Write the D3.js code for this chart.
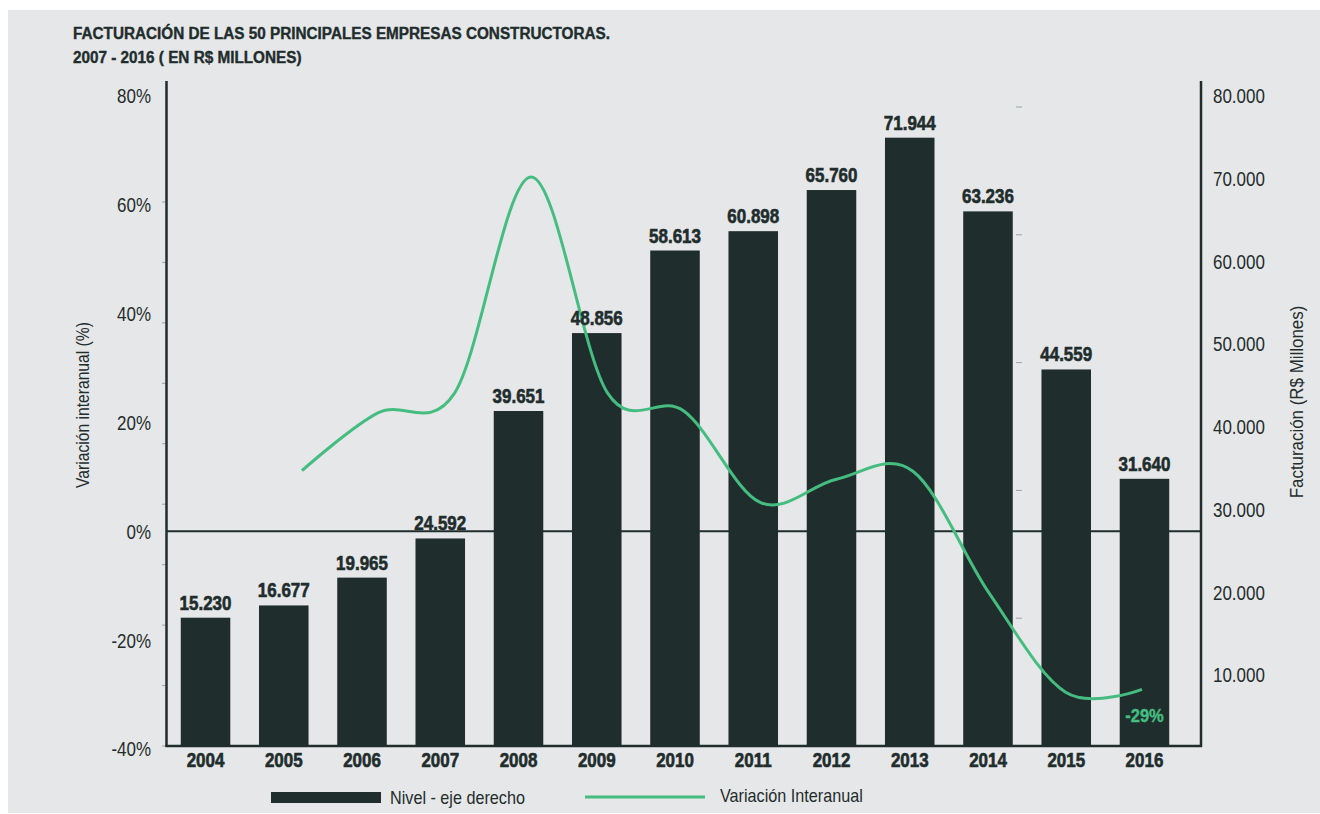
<!DOCTYPE html>
<html>
<head>
<meta charset="utf-8">
<script src="https://cdn.jsdelivr.net/npm/d3@7/dist/d3.min.js"></script>
<style>
  html, body { margin: 0; padding: 0; background: #ffffff; }
  svg { display: block; }
  text { font-family: "Liberation Sans", Arial, sans-serif; fill: #1f2d2d; }
</style>
</head>
<body>
<svg id="chart" width="1320" height="814"></svg>
<script>
// Facturación anual (R$ millones) y variación interanual (%)
const years = ["2004", "2005", "2006", "2007", "2008", "2009", "2010", "2011", "2012", "2013", "2014", "2015", "2016"];
const revenue = [15230, 16677, 19965, 24592, 39651, 48856, 58613, 60898, 65760, 71944, 63236, 44559, 31640];
const variationYears = ["2005", "2006", "2007", "2008", "2009", "2010", "2011", "2012", "2013", "2014", "2015", "2016"];
const variation = [9.5, 19.7, 23.2, 61.2, 23.2, 20.0, 3.9, 8.0, 9.4, -12.1, -29.5, -29.0];
const pctTicks = [-40, -20, 0, 20, 40, 60, 80];
const revTicks = [10000, 20000, 30000, 40000, 50000, 60000, 70000, 80000];
const titleLines = ["FACTURACIÓN DE LAS 50 PRINCIPALES EMPRESAS CONSTRUCTORAS.", "2007 - 2016 ( EN R$ MILLONES)"];

const DARK = "#1f2d2d";
const GREEN = "#45bd80";
const NARROW = 0.87;   // horizontal squeeze giving a condensed face

const esLocale = d3.formatLocale({ decimal: ",", thousands: ".", grouping: [3], currency: ["R$", ""], minus: "-" });
const fmtThousands = esLocale.format(",");
const fmtPct = esLocale.format(".0f");

const svg = d3.select("#chart");

// text helper: positioned group transform, then a horizontal squeeze
function label(parent, x, y, str, o = {}) {
  const rot = o.rotate ? ` rotate(${o.rotate})` : "";
  const fill = o.fill || DARK;
  const t = parent.append("text")
    .attr("transform", `translate(${x},${y})${rot} scale(${o.sx || NARROW},1)`)
    .attr("text-anchor", o.anchor || "start")
    .style("font-size", (o.size || 19) + "px")
    .style("font-weight", o.weight || "normal")
    .style("fill", fill)
    .text(str);
  if (o.heavy) t.style("stroke", fill).style("stroke-width", o.heavy + "px");
  return t;
}

// panel background
svg.append("rect").attr("x", 8).attr("y", 10).attr("width", 1312).attr("height", 803).attr("fill", "#e6e7e8");

// plot frame
const frameLeft = 166.5, frameRight = 1201, frameTop = 81, frameBottom = 746;

// scales
const x = d3.scaleBand().domain(years).range([166.4, 1183.6]).paddingInner(0.367).paddingOuter(0.1835);
const yBar = d3.scaleLinear().domain([0, 80000]).range([746.6, 69.5]);
const yRevLabel = d3.scaleLinear().domain([0, 80000]).range([757.7, 96]);
const yPctLabel = d3.scaleLinear().domain([-40, 80]).range([749, 96]);
const yLine = d3.scaleLinear().domain([-40, 80]).range([751.8, 70.2]);
const xLine = d3.scalePoint().domain(variationYears).range([302, 1142]);

// title
titleLines.forEach((t, i) => {
  label(svg, 73, 39 + i * 24, t, { size: 17, weight: "bold", sx: 0.9, heavy: 0.4 });
});

// faint minor ticks
const minorLeft = d3.range(0, 10).map(k => frameBottom - k * 60.45);
svg.append("g").selectAll("line").data(minorLeft).join("line")
  .attr("x1", 162).attr("x2", 166).attr("y1", d => d).attr("y2", d => d)
  .attr("stroke", "#9aa3a3").attr("stroke-width", 1);
const minorRight = d3.range(0, 5).map(k => 107 + k * 127.8);
svg.append("g").selectAll("line").data(minorRight).join("line")
  .attr("x1", 1016).attr("x2", 1022).attr("y1", d => d).attr("y2", d => d)
  .attr("stroke", "#9aa3a3").attr("stroke-width", 1);

// bars
svg.append("g").selectAll("rect").data(years).join("rect")
  .attr("x", d => x(d))
  .attr("width", x.bandwidth())
  .attr("y", (d, i) => yBar(revenue[i]))
  .attr("height", (d, i) => yBar(0) - yBar(revenue[i]))
  .attr("fill", DARK);

// zero line
svg.append("line").attr("x1", frameLeft).attr("x2", frameRight)
  .attr("y1", yPctLabel(0)).attr("y2", yPctLabel(0))
  .attr("stroke", DARK).attr("stroke-width", 2);

// frame axes
svg.append("line").attr("x1", frameLeft).attr("x2", frameLeft).attr("y1", frameTop).attr("y2", frameBottom + 1)
  .attr("stroke", DARK).attr("stroke-width", 2.5);
svg.append("line").attr("x1", frameRight).attr("x2", frameRight).attr("y1", frameTop).attr("y2", frameBottom + 1)
  .attr("stroke", DARK).attr("stroke-width", 2.5);
svg.append("line").attr("x1", frameLeft - 1).attr("x2", frameRight + 1).attr("y1", frameBottom).attr("y2", frameBottom)
  .attr("stroke", DARK).attr("stroke-width", 2.5);

// variation line
const line = d3.line()
  .x((d, i) => xLine(variationYears[i]))
  .y(d => yLine(d))
  .curve(d3.curveCatmullRom.alpha(0));
svg.append("path").datum(variation)
  .attr("d", line)
  .attr("fill", "none").attr("stroke", GREEN).attr("stroke-width", 3);

// bar value labels
const gValues = svg.append("g");
years.forEach((d, i) => {
  label(gValues, x(d) + x.bandwidth() / 2, yBar(revenue[i]) - 8, fmtThousands(revenue[i]),
    { size: 19.5, weight: "bold", anchor: "middle", heavy: 0.6 });
});

// left axis labels (%)
const leftAxis = d3.axisLeft(yPctLabel).tickValues(pctTicks).tickSize(0).tickPadding(0)
  .tickFormat(d => d + "%");
const gLeft = svg.append("g").attr("transform", "translate(151,0)").call(leftAxis);
gLeft.select(".domain").remove();
gLeft.selectAll("text").attr("x", 0).attr("transform", `scale(${NARROW},1)`)
  .style("font-size", "19.5px").style("font-family", null).attr("fill", DARK).attr("dy", "0.35em");

// right axis labels (R$ millones)
const rightAxis = d3.axisRight(yRevLabel).tickValues(revTicks).tickSize(0).tickPadding(0)
  .tickFormat(fmtThousands);
const gRight = svg.append("g").attr("transform", "translate(1213,0)").call(rightAxis);
gRight.select(".domain").remove();
gRight.selectAll("text").attr("x", 0).attr("transform", `scale(${NARROW},1)`)
  .style("font-size", "19.5px").attr("fill", DARK).attr("dy", "0.35em");

// x axis labels
const bottomAxis = d3.axisBottom(x).tickSize(0).tickPadding(0);
const gBottom = svg.append("g").attr("transform", "translate(0,752)").call(bottomAxis);
gBottom.select(".domain").remove();
gBottom.selectAll("text").attr("y", 0).attr("transform", `scale(${NARROW},1)`)
  .style("font-size", "19.5px").style("font-weight", "bold")
  .style("stroke", DARK).style("stroke-width", "0.6px")
  .attr("fill", DARK).attr("dy", "0.75em");

// axis titles
label(svg, 89, 405, "Variación interanual (%)", { size: 18, rotate: -90, anchor: "middle", sx: 0.87 });
label(svg, 1303, 402, "Facturación (R$ Millones)", { size: 18, rotate: -90, anchor: "middle", sx: 0.94 });

// last value label
const lastIdx = variation.length - 1;
label(svg, x(years[years.length - 1]) + x.bandwidth() / 2, 722, fmtPct(variation[lastIdx]) + "%",
  { size: 19, weight: "bold", anchor: "middle", fill: GREEN, heavy: 0.4 });

// legend
const legend = svg.append("g");
legend.append("rect").attr("x", 271).attr("y", 792).attr("width", 110).attr("height", 11).attr("fill", DARK);
label(legend, 390, 804, "Nivel - eje derecho", { size: 18, sx: 0.9 });
legend.append("line").attr("x1", 585).attr("x2", 705).attr("y1", 797).attr("y2", 797)
  .attr("stroke", GREEN).attr("stroke-width", 3);
label(legend, 720, 802, "Variación Interanual", { size: 18, sx: 0.9 });
</script>
</body>
</html>
